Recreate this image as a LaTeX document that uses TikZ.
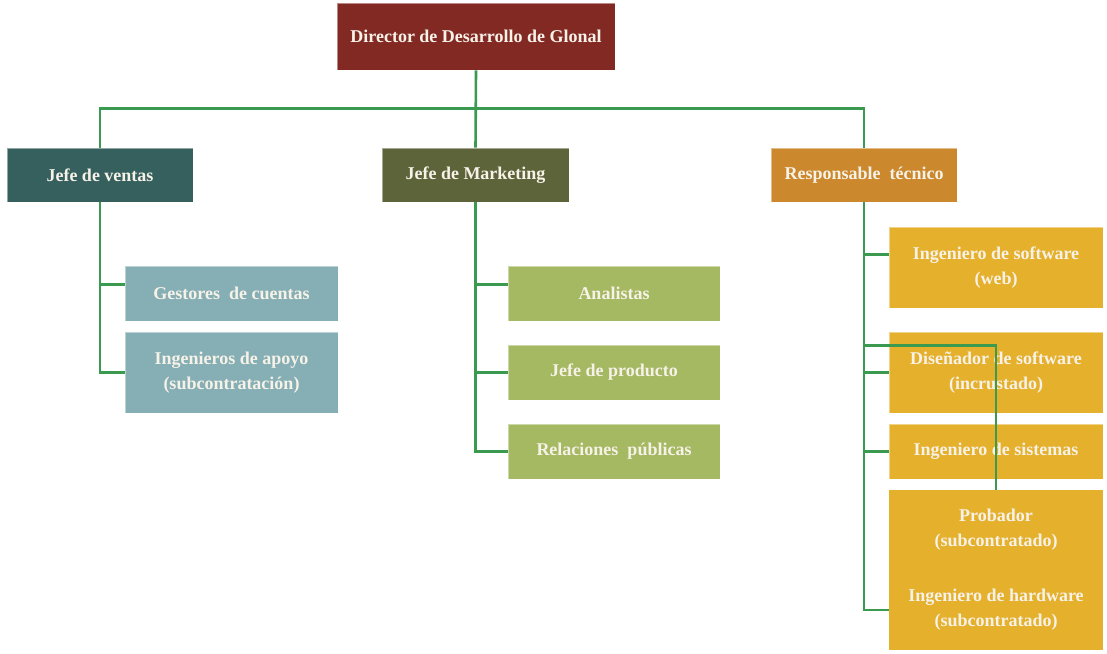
\documentclass[tikz,border=0pt]{standalone}
\usepackage{fontspec}
\setmainfont{Liberation Serif}
\definecolor{cdir}{HTML}{832923}
\definecolor{cjv}{HTML}{36605E}
\definecolor{cmk}{HTML}{5D643A}
\definecolor{crt}{HTML}{CB882C}
\definecolor{cl}{HTML}{85AFB5}
\definecolor{cm}{HTML}{A5B862}
\definecolor{cr}{HTML}{E5B02C}
\definecolor{cline}{HTML}{3A9A50}
\definecolor{ctext}{HTML}{F7F2E8}
\begin{document}
\begin{tikzpicture}[x=1pt,y=-1pt,
  box/.style={rectangle, draw=white, draw opacity=0.45, line width=0.8pt, inner sep=0pt, align=center,
    text=ctext, font=\fontsize{18}{25}\selectfont\bfseries},
  conn/.style={draw=cline, line width=2.6pt}]
\useasboundingbox (0,0) rectangle (1107,653);
% boxes
\node[box, fill=cdir, minimum width=278pt, minimum height=67pt] (dir) at (476,36.5) {Director de Desarrollo de Glonal};
\node[box, fill=cjv, minimum width=186pt, minimum height=54pt] (jv) at (100,175) {Jefe de ventas};
\node[box, fill=cmk, minimum width=187pt, minimum height=54pt] (mk) at (475.5,175) {Jefe de Marketing};
\node[box, fill=crt, minimum width=186pt, minimum height=54pt] (rt) at (864,175) {Responsable\ \ técnico};
% left children
\node[box, fill=cl, minimum width=213pt, minimum height=55pt] (ges) at (231.5,293.5) {Gestores\ \ de cuentas};
\node[box, fill=cl, minimum width=213pt, minimum height=81pt] (ia) at (231.5,372.5) {Ingenieros de apoyo\\ (subcontratación)};
% middle children
\node[box, fill=cm, minimum width=212pt, minimum height=55pt] (an) at (614,293.5) {Analistas};
\node[box, fill=cm, minimum width=212pt, minimum height=55pt] (jp) at (614,372.5) {Jefe de producto};
\node[box, fill=cm, minimum width=212pt, minimum height=55pt] (rp) at (614,451.5) {Relaciones\ \ públicas};
% right children
\node[box, fill=cr, minimum width=214pt, minimum height=81pt] (sw) at (996,267.5) {Ingeniero de software\\(web)};
\node[box, fill=cr, minimum width=214pt, minimum height=81pt] (ds) at (996,372.5) {Diseñador de software\\(incrustado)};
\node[box, fill=cr, minimum width=214pt, minimum height=55pt] (si) at (996,451.5) {Ingeniero de sistemas};
\node[box, fill=cr, draw=none, minimum width=214pt, minimum height=80pt] (pr) at (996,530) {Probador\\(subcontratado)};
\node[box, fill=cr, draw=none, minimum width=214pt, minimum height=80pt] (hw) at (996,610) {Ingeniero de hardware\\(subcontratado)};
% connectors
\draw[conn] (dir.south) -- (mk.north);
\draw[conn] (jv.north) -- ++(0,-39) -| (rt.north);
\draw[conn] (jv.south) |- ([yshift=-19pt]ges.north west);
\draw[conn] (jv.south) |- (ia.west);
\draw[conn] (mk.south) |- ([yshift=-19pt]an.north west);
\draw[conn] (mk.south) |- (jp.west);
\draw[conn] (mk.south) |- (rp.west);
\draw[conn] (rt.south) |- ([yshift=-28pt]sw.north west);
\draw[conn] (rt.south) |- (ds.west);
\draw[conn] (rt.south) |- (si.west);
\draw[conn] (rt.south) |- (hw.west);
\coordinate (dsk) at ([yshift=-14pt]ds.north west);
\draw[conn] (dsk -| rt.south) -| (pr.north);
\end{tikzpicture}
\end{document}
